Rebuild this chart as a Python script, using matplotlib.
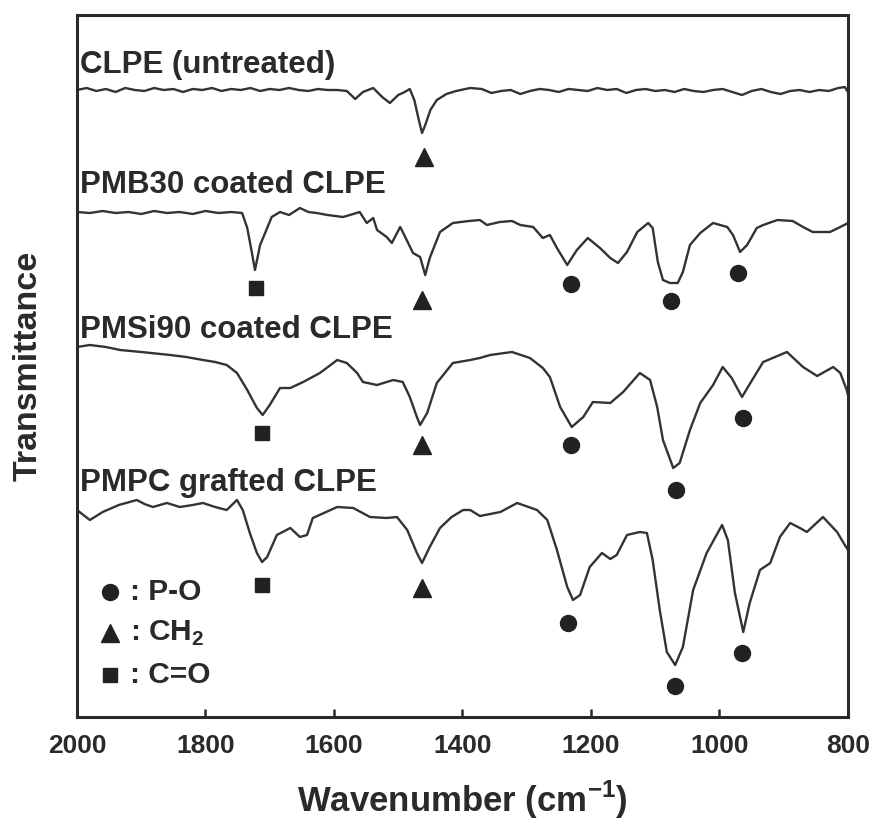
import matplotlib
matplotlib.use("Agg")
import matplotlib.pyplot as plt

FONT = "Liberation Sans"
plt.rcParams["font.family"] = [FONT, "DejaVu Sans"]
plt.rcParams["mathtext.fontset"] = "custom"
plt.rcParams["mathtext.rm"] = FONT
plt.rcParams["mathtext.bf"] = FONT + ":bold"

LINE = "#333333"
INK = "#2a2a2a"

# ---- data (wavenumber in cm-1, transmittance in arbitrary offset units) ----
clpe_wn = [2000, 1985, 1970, 1955, 1940, 1925, 1910, 1895, 1880, 1865, 1850, 1835, 1820, 1805,
           1790, 1775, 1760, 1745, 1730, 1715, 1700, 1685, 1670, 1655, 1640, 1625, 1610, 1595,
           1580, 1567, 1555, 1539, 1525, 1513, 1500, 1490, 1482, 1475, 1468, 1463, 1458, 1450,
           1440, 1425, 1410, 1388, 1370, 1355, 1340, 1325, 1310, 1295, 1280, 1265, 1250, 1235,
           1220, 1205, 1190, 1175, 1160, 1145, 1130, 1115, 1100, 1085, 1070, 1055, 1040, 1025,
           1010, 995, 980, 965, 950, 935, 920, 905, 890, 875, 860, 845, 830, 815, 805, 800]
clpe_t = [627, 629, 626, 628, 625, 629, 627, 626, 629, 627, 628, 625, 628, 627,
          629, 626, 628, 627, 629, 626, 628, 627, 629, 627, 626, 628, 627, 627,
          626, 618, 625, 629, 620, 614, 622, 625, 628, 617, 597, 584, 592, 607,
          617, 623, 626, 629, 628, 624, 626, 627, 623, 626, 628, 627, 625, 628,
          627, 626, 629, 627, 628, 624, 627, 628, 626, 627, 625, 628, 626, 625,
          627, 628, 625, 622, 626, 628, 625, 623, 626, 627, 625, 627, 626, 629, 630, 625]

pmb_wn = [2000, 1980, 1960, 1940, 1920, 1900, 1880, 1860, 1840, 1820, 1800, 1780, 1760, 1743,
          1735, 1728, 1723, 1715, 1704, 1697, 1684, 1670, 1653, 1640, 1627, 1610, 1586, 1570,
          1560, 1549, 1539, 1533, 1518, 1510, 1497, 1493, 1477, 1466, 1458, 1451, 1435, 1415,
          1390, 1373, 1362, 1342, 1323, 1310, 1290, 1275, 1264, 1253, 1237, 1222, 1205, 1186,
          1170, 1158, 1144, 1128, 1111, 1104, 1096, 1088, 1077, 1065, 1057, 1046, 1030, 1010,
          988, 979, 968, 957, 942, 932, 910, 886, 870, 855, 828, 812, 800]
pmb_t = [505, 504, 506, 504, 505, 503, 506, 504, 505, 503, 506, 504, 505, 504,
         489, 465, 447, 472, 489, 500, 505, 502, 509, 505, 504, 502, 500, 503,
         505, 494, 499, 487, 480, 474, 490, 485, 464, 460, 442, 459, 485, 494,
         496, 497, 492, 495, 496, 492, 490, 479, 482, 469, 452, 467, 479, 469,
         459, 454, 465, 485, 494, 489, 455, 437, 434, 434, 445, 472, 484, 494,
         490, 482, 465, 472, 489, 492, 497, 496, 490, 485, 485, 490, 494]

pmsi_wn = [2000, 1980, 1955, 1933, 1900, 1855, 1830, 1804, 1785, 1767, 1751, 1735, 1720, 1711,
           1700, 1684, 1668, 1648, 1622, 1595, 1580, 1564, 1555, 1533, 1508, 1493, 1482, 1471,
           1466, 1455, 1440, 1415, 1388, 1373, 1357, 1323, 1295, 1275, 1264, 1248, 1230, 1212,
           1197, 1170, 1150, 1124, 1108, 1097, 1088, 1072, 1062, 1046, 1030, 1010, 995, 981,
           965, 952, 932, 895, 870, 848, 823, 812, 802, 800]
pmsi_t = [370, 372, 370, 367, 365, 362, 360, 357, 355, 352, 344, 327, 309, 302,
          312, 329, 329, 335, 344, 357, 354, 344, 335, 332, 337, 335, 320, 300,
          292, 304, 334, 354, 357, 359, 362, 365, 359, 349, 340, 310, 290, 300,
          315, 314, 325, 344, 337, 310, 277, 249, 254, 287, 314, 332, 350, 339,
          320, 334, 355, 365, 350, 341, 350, 344, 327, 322]

pmpc_wn = [2000, 1980, 1960, 1935, 1907, 1895, 1882, 1860, 1840, 1820, 1804, 1785, 1767, 1751,
           1742, 1731, 1720, 1712, 1704, 1689, 1668, 1653, 1642, 1633, 1595, 1570, 1544, 1518,
           1502, 1486, 1471, 1463, 1451, 1435, 1417, 1399, 1388, 1373, 1341, 1315, 1284, 1268,
           1253, 1237, 1228, 1217, 1202, 1183, 1170, 1160, 1144, 1124, 1113, 1104, 1093, 1082,
           1069, 1057, 1041, 1020, 996, 987, 976, 963, 953, 937, 921, 906, 890, 875, 864, 839,
           817, 805, 800]
pmpc_t = [207, 197, 205, 212, 217, 213, 210, 214, 210, 212, 214, 210, 207, 217,
          207, 184, 164, 155, 160, 182, 189, 180, 182, 199, 210, 209, 200, 199,
          200, 187, 164, 154, 170, 189, 200, 207, 207, 201, 205, 214, 207, 197,
          167, 130, 117, 122, 150, 164, 158, 162, 182, 185, 184, 157, 107, 65,
          52, 70, 127, 164, 192, 177, 124, 85, 114, 147, 154, 180, 194, 189, 185, 200,
          185, 172, 167]

series_labels = ["CLPE (untreated)", "PMB30 coated CLPE", "PMSi90 coated CLPE", "PMPC grafted CLPE"]
label_pos_t = [652, 532, 387, 234]

# peak markers
po_wn = [1231, 1075, 971, 1231, 1068, 963, 1236, 1070, 965]
po_t = [433, 416, 444, 272, 227, 299, 94, 31, 64]
ch2_wn = [1460, 1463, 1463, 1463]
ch2_t = [560, 417, 272, 129]
co_wn = [1721, 1712, 1712]
co_t = [429, 284, 132]

legend_items = [": P-O", ": CH$_\\mathbf{2}$", ": C=O"]
legend_t = [125, 84, 42]
legend_marker_wn = 1948
legend_text_wn = 1917

xticks = [2000, 1800, 1600, 1400, 1200, 1000, 800]

# ---- figure ----
fig = plt.figure(figsize=(8.74, 8.26), dpi=100)
ax = fig.add_axes([77 / 874, 1 - 717 / 826, 771 / 874, 702 / 826])

for wn, t in [(clpe_wn, clpe_t), (pmb_wn, pmb_t), (pmsi_wn, pmsi_t), (pmpc_wn, pmpc_t)]:
    ax.plot(wn, t, color=LINE, lw=1.7, solid_joinstyle="round")

ax.plot(po_wn, po_t, "o", color="#222222", ms=11.5, ls="none")
ax.plot(ch2_wn, ch2_t, "^", color="#222222", ms=13, ls="none")
ax.plot(co_wn, co_t, "s", color="#222222", ms=10, ls="none")

for lab, y in zip(series_labels, label_pos_t):
    ax.text(1995, y, lab, fontsize=22.5, fontweight="bold", color=INK,
            ha="left", va="center")

mk = ["o", "^", "s"]
ms = [11.5, 13, 10]
for item, y, m, s in zip(legend_items, legend_t, mk, ms):
    ax.plot([legend_marker_wn], [y], m, color="#222222", ms=s)
    ax.text(legend_text_wn, y, item, fontsize=21.5, fontweight="bold", color=INK,
            ha="left", va="center")

ax.set_xlim(2000, 800)
ax.set_ylim(0, 702)
ax.set_xticks(xticks)
ax.set_xticklabels([str(v) for v in xticks])
ax.set_yticks([])
ax.tick_params(axis="x", direction="in", length=6, width=1.8, pad=12,
               labelsize=19, colors=INK)
for lbl in ax.get_xticklabels():
    lbl.set_fontweight("bold")
for sp in ax.spines.values():
    sp.set_linewidth(2.2)
    sp.set_color(INK)

ax.set_xlabel("Wavenumber (cm$^{\\mathbf{-1}}$)", fontsize=25, fontweight="bold",
              color=INK, labelpad=15)
ax.set_ylabel("Transmittance", fontsize=24.5, fontweight="bold", color=INK, labelpad=24)

fig.savefig("out.png", dpi=100)
